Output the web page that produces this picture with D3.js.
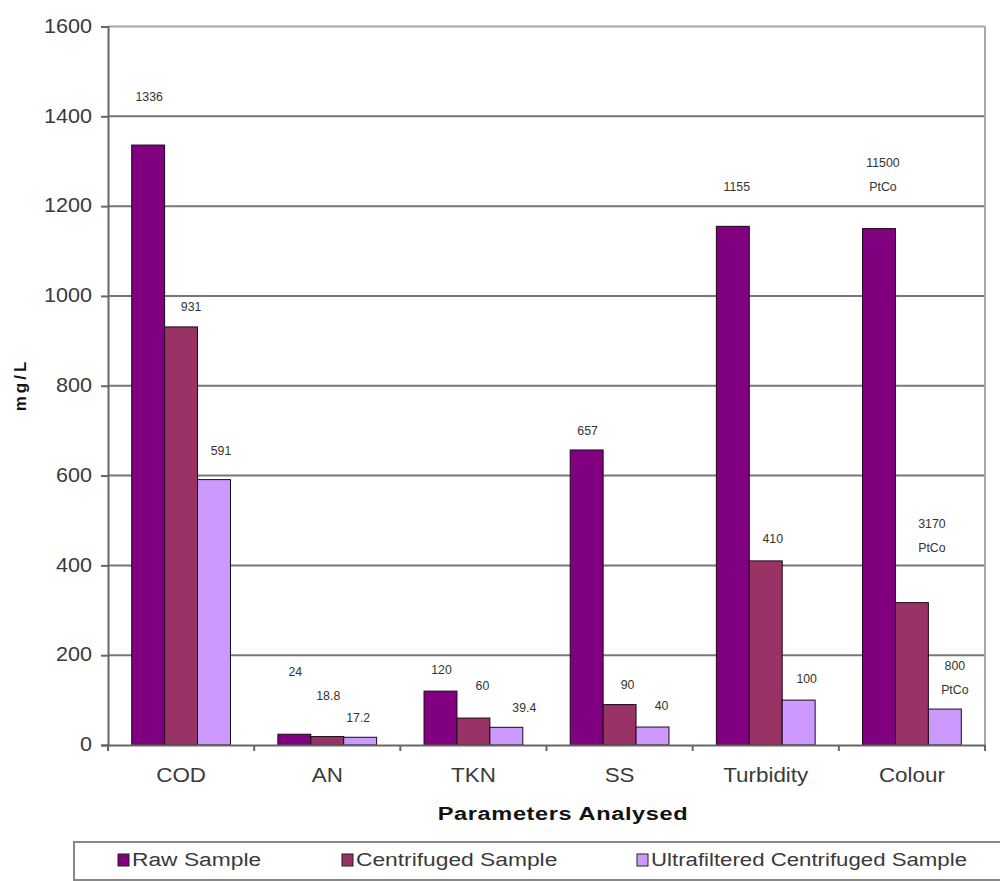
<!DOCTYPE html>
<html>
<head>
<meta charset="utf-8">
<script src="https://cdn.jsdelivr.net/npm/d3@7"></script>
<style>
  body { margin: 0; background: #fff; }
  svg { display: block; font-family: "Liberation Sans", Arial, sans-serif; }
</style>
</head>
<body>
<svg id="chart" width="1000" height="881"></svg>
<script>
// Parameters analysed and results per sample type (mg/L; colour stored as PtCo / 10)
const categories = ["COD", "AN", "TKN", "SS", "Turbidity", "Colour"];
const seriesNames = ["Raw  Sample", "Centrifuged Sample", "Ultrafiltered Centrifuged Sample"];
const rawSample = [1336, 24, 120, 657, 1155, 1150];
const centrifugedSample = [931, 18.8, 60, 90, 410, 317];
const ultrafilteredSample = [591, 17.2, 39.4, 40, 100, 80];
const yTicks = [0, 200, 400, 600, 800, 1000, 1200, 1400, 1600];
const colourUnit = "PtCo";

// Label placement nudges (pixels): horizontal shift and lift above the bar top
const labelDx = [
  [1, 1, 1, 1, 4, 4],
  [10, 1, 9, 8, 7, 20],
  [7, -2, 18, 9, 8, 10]
];
const labelLift = [
  [47, 62, 21, 18, 39, 41],
  [19, 40, 31, 19, 21, 54],
  [28, 19, 19, 20, 21, 19]
];

const seriesValues = [rawSample, centrifugedSample, ultrafilteredSample];
const seriesColors = ["#800080", "#993366", "#cc99ff"];

const svg = d3.select("#chart");
const plot = { left: 108, right: 985, top: 26.5, bottom: 745 };

const x0 = d3.scaleBand().domain(categories).range([plot.left, plot.right]).padding(0);
const x1 = d3.scaleBand().domain(d3.range(3)).range([0, x0.bandwidth()])
  .paddingInner(0).paddingOuter(0.72);
const y = d3.scaleLinear().domain([0, 1600]).range([plot.bottom, plot.top]);

// Text helper: places text with an optional horizontal stretch
function addText(parent, x, yy, str, opt = {}) {
  const g = parent.append("g")
    .attr("transform", `translate(${x},${yy}) scale(${opt.sx || 1},1)` + (opt.rotate ? ` rotate(${opt.rotate})` : ""));
  const t = g.append("text")
    .attr("text-anchor", opt.anchor || "middle")
    .attr("dominant-baseline", opt.baseline || "middle")
    .attr("font-size", opt.size || 14)
    .attr("font-weight", opt.weight || "normal")
    .attr("fill", opt.fill || "#222")
    .text(str);
  if (opt.spacing) t.attr("letter-spacing", opt.spacing);
  return g;
}

// Horizontal gridlines
svg.append("g").selectAll("line").data(yTicks.filter(d => d > 0)).join("line")
  .attr("x1", plot.left).attr("x2", plot.right)
  .attr("y1", d => y(d)).attr("y2", d => y(d))
  .attr("stroke", d => d === 1600 ? "#a8a8a8" : "#777")
  .attr("stroke-width", 2);

// Right edge of plot area
svg.append("line")
  .attr("x1", plot.right).attr("x2", plot.right)
  .attr("y1", y(1600)).attr("y2", y(0))
  .attr("stroke", "#a8a8a8").attr("stroke-width", 2);

// Bars
const groups = svg.append("g").selectAll("g").data(categories).join("g")
  .attr("transform", d => `translate(${x0(d)},0)`);
groups.selectAll("rect")
  .data((c, i) => seriesValues.map((s, k) => ({ k, v: s[i] })))
  .join("rect")
  .attr("x", d => x1(d.k))
  .attr("width", x1.bandwidth())
  .attr("y", d => y(d.v))
  .attr("height", d => y(0) - y(d.v))
  .attr("fill", d => seriesColors[d.k])
  .attr("stroke", "#1a0a1a")
  .attr("stroke-width", 1);

// Y axis
const yAxis = d3.axisLeft(y).tickValues(yTicks).tickSize(7).tickFormat(d3.format("d"));
const yg = svg.append("g").attr("transform", `translate(${plot.left},0)`).call(yAxis);
yg.select(".domain").attr("stroke", "#666").attr("stroke-width", 2);
yg.selectAll(".tick line").attr("stroke", "#666").attr("stroke-width", 2);
yg.selectAll(".tick text").remove();
yTicks.forEach(t => addText(svg, 92, y(t) + 1, String(t), { size: 20, anchor: "end", sx: 1.08, fill: "#3a3a3a" }));

// X axis
const xAxis = d3.axisBottom(x0).tickSize(0).tickFormat("");
const xg = svg.append("g").attr("transform", `translate(0,${plot.bottom})`).call(xAxis);
xg.select(".domain").attr("stroke", "#666").attr("stroke-width", 2);
xg.selectAll(".tick").remove();
svg.append("g").selectAll("line").data(d3.range(categories.length + 1)).join("line")
  .attr("x1", i => plot.left + i * x0.step()).attr("x2", i => plot.left + i * x0.step())
  .attr("y1", plot.bottom).attr("y2", plot.bottom + 6)
  .attr("stroke", "#666").attr("stroke-width", 2);
categories.forEach(c => addText(svg, x0(c) + x0.bandwidth() / 2, 777, c, { size: 20, sx: 1.12, fill: "#3a3a3a" }));

// Data labels
const fmt = d => String(d);
categories.forEach((c, i) => {
  seriesValues.forEach((s, k) => {
    const v = s[i];
    const cx = x0(c) + x1(k) + x1.bandwidth() / 2 + labelDx[k][i];
    const cy = y(v) - labelLift[k][i];
    if (c === "Colour") {
      addText(svg, cx, cy - 24, fmt(Math.round(v * 10)), { size: 13, sx: 0.95, fill: "#333" });
      addText(svg, cx, cy, colourUnit, { size: 13, sx: 0.95, fill: "#333" });
    } else {
      addText(svg, cx, cy, fmt(v), { size: 13, sx: 0.95, fill: "#333" });
    }
  });
});

// Axis titles
addText(svg, 22, 385, "mg/L", { size: 17, weight: "bold", rotate: -90, spacing: 3, fill: "#111" });
addText(svg, 563, 815, "Parameters Analysed", { size: 19, weight: "bold", sx: 1.24, spacing: 0.5, fill: "#111" });

// Legend
svg.append("rect")
  .attr("x", 74).attr("y", 842).attr("width", 940).attr("height", 38)
  .attr("fill", "#fff").attr("stroke", "#888").attr("stroke-width", 2);
const legendX = [118, 342, 637];
seriesNames.forEach((name, k) => {
  svg.append("rect")
    .attr("x", legendX[k]).attr("y", 854).attr("width", 11).attr("height", 12)
    .attr("fill", seriesColors[k]).attr("stroke", "#222").attr("stroke-width", 1);
  addText(svg, legendX[k] + 14, 861, name, { size: 19, anchor: "start", sx: k === 2 ? 1.17 : 1.2, fill: "#3a3a3a" });
});
</script>
</body>
</html>
